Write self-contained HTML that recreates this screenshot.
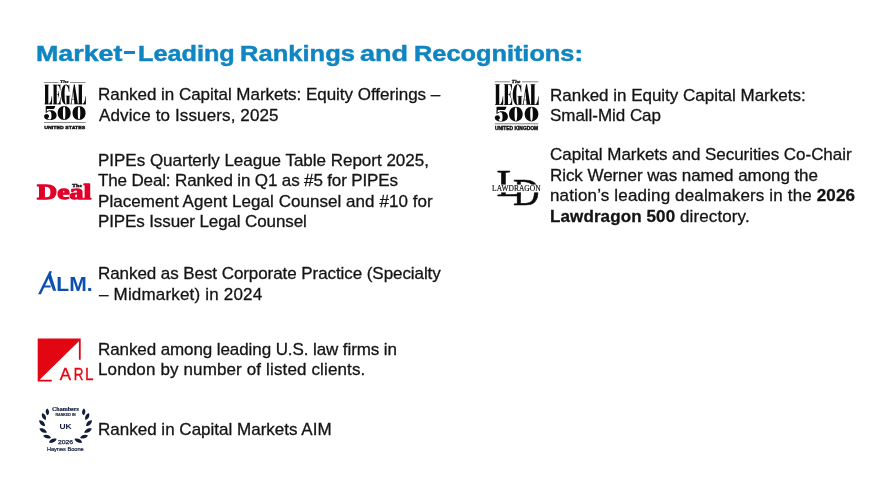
<!DOCTYPE html>
<html><head><meta charset="utf-8">
<style>
html,body{margin:0;padding:0;background:#fff;}
body{width:891px;height:494px;position:relative;overflow:hidden;font-family:"Liberation Sans",sans-serif;color:#1a1a1a;}
.tw{position:absolute;top:40px;-webkit-text-stroke:0.45px #0f85c2;font-weight:bold;font-size:22px;color:#0f85c2;white-space:nowrap;line-height:28px;transform-origin:0 0;will-change:transform;}
.t{position:absolute;font-size:17px;line-height:20px;height:20px;white-space:nowrap;color:#141414;-webkit-text-stroke:0.3px #141414;}
svg.logos{position:absolute;left:0;top:0;will-change:transform;}
.t{will-change:transform;}
</style></head><body>
<div id="title"><span class="tw" style="left:36.09px;transform:scaleX(1.2185)">Market</span><span class="tw" style="left:137.68px;transform:scaleX(1.1473)">Leading</span><span class="tw" style="left:240.07px;transform:scaleX(1.1614)">Rankings</span><span class="tw" style="left:360.41px;transform:scaleX(1.2280)">and</span><span class="tw" style="left:413.88px;transform:scaleX(1.1514)">Recognitions:</span><span style="position:absolute;left:124.3px;top:51.3px;width:10.4px;height:3.1px;background:#0f85c2"></span></div>
<div class="t" id="a1" style="left:98.00px;top:85.00px;letter-spacing:-0.032px">Ranked in Capital Markets: Equity Offerings –</div>
<div class="t" id="a2" style="left:99.00px;top:106.00px;letter-spacing:0.129px">Advice to Issuers, 2025</div>
<div class="t" id="b1" style="left:98.00px;top:151.00px;letter-spacing:-0.013px">PIPEs Quarterly League Table Report 2025,</div>
<div class="t" id="b2" style="left:98.00px;top:171.00px;letter-spacing:-0.142px">The Deal: Ranked in Q1 as #5 for PIPEs</div>
<div class="t" id="b3" style="left:98.00px;top:192.00px;letter-spacing:0.048px">Placement Agent Legal Counsel and #10 for</div>
<div class="t" id="b4" style="left:98.00px;top:212.00px;letter-spacing:-0.116px">PIPEs Issuer Legal Counsel</div>
<div class="t" id="c1" style="left:98.00px;top:264.00px;letter-spacing:-0.071px">Ranked as Best Corporate Practice (Specialty</div>
<div class="t" id="c2" style="left:99.00px;top:285.00px;letter-spacing:0.180px">– Midmarket) in 2024</div>
<div class="t" id="d1" style="left:98.00px;top:340.00px;letter-spacing:-0.092px">Ranked among leading U.S. law firms in</div>
<div class="t" id="d2" style="left:98.00px;top:360.00px;letter-spacing:0.134px">London by number of listed clients.</div>
<div class="t" id="e1" style="left:98.00px;top:420.00px;letter-spacing:0.008px">Ranked in Capital Markets AIM</div>
<div class="t" id="f1" style="left:550.00px;top:86.00px;letter-spacing:-0.014px">Ranked in Equity Capital Markets:</div>
<div class="t" id="f2" style="left:550.00px;top:106.00px;letter-spacing:-0.040px">Small-Mid Cap</div>
<div class="t" id="g1" style="left:550.00px;top:145.00px;letter-spacing:-0.045px">Capital Markets and Securities Co-Chair</div>
<div class="t" id="g2" style="left:550.00px;top:166.00px;letter-spacing:-0.065px">Rick Werner was named among the</div>
<div class="t" id="g3" style="left:550.00px;top:186.00px;letter-spacing:0.150px">nation’s leading dealmakers in the <b>2026</b></div>
<div class="t" id="g4" style="left:550.00px;top:207.00px;letter-spacing:0.111px"><b>Lawdragon 500</b> directory.</div>
<svg class="logos" width="891" height="494" viewBox="0 0 891 494">
<defs>
<!-- Legal 500 logo drawn in zoom coords (16.46 units per px), origin = page (42,78) -->
<g id="legal">
  <!-- top rule with gap for The -->
  <rect x="33" y="66" width="238" height="11" fill="#555"/>
  <rect x="462" y="66" width="253" height="11" fill="#555"/>
  <text x="368" y="84" font-family="Liberation Serif" font-style="italic" font-weight="bold" font-size="76" text-anchor="middle" textLength="140" lengthAdjust="spacingAndGlyphs" fill="#111" stroke="#111" stroke-width="4">The</text>
  <!-- L -->
  <g fill="#0a0a0a">
  <rect x="38" y="112" width="78" height="8"/>
  <rect x="50" y="112" width="54" height="320"/>
  <rect x="38" y="422" width="128" height="10"/>
  <path d="M120 432 L166 432 L166 300 L158 300 C156 360 140 410 120 424 Z"/>
  <!-- E -->
  <rect x="178" y="112" width="124" height="8"/>
  <rect x="190" y="112" width="52" height="320"/>
  <rect x="178" y="422" width="128" height="10"/>
  <path d="M262 118 C285 130 294 160 296 205 L303 205 L303 112 L262 112 Z"/>
  <path d="M242 266 L262 266 C270 250 274 235 275 215 L281 215 L281 325 L275 325 C274 300 268 285 260 274 L242 274 Z"/>
  <path d="M262 426 C288 410 298 370 300 320 L307 320 L307 432 L262 432 Z"/>
  <!-- G -->
  <path d="M392 108 C345 108 316 185 316 272 C316 360 345 438 392 438 L392 430 C378 420 372 350 372 272 C372 195 378 124 392 116 Z"/>
  <path d="M392 108 C412 108 428 118 436 132 L442 112 L450 112 L450 232 L443 232 C438 185 425 130 392 116 Z"/>
  <rect x="404" y="296" width="48" height="136"/>
  <rect x="390" y="292" width="80" height="8"/>
  <path d="M392 438 C398 438 402 434 404 428 L404 415 C400 424 396 430 392 430 Z"/>
  <!-- A -->
  <path d="M462 432 L462 424 L474 422 L524 108 L540 108 L590 422 L600 424 L600 432 L520 432 L520 424 L534 422 L527 360 L494 360 L486 422 L500 424 L500 432 Z M496 350 L526 350 L512 216 Z"/>
  <!-- L -->
  <rect x="592" y="112" width="78" height="8"/>
  <rect x="604" y="112" width="54" height="320"/>
  <rect x="592" y="422" width="130" height="10"/>
  <path d="M676 432 L722 432 L722 300 L714 300 C712 360 696 410 676 424 Z"/>
  </g>

  <g fill="#0a0a0a">
  <!-- 5 -->
  <path d="M62 462 L218 462 C214 485 205 505 190 512 L82 512 L76 556 C92 540 118 532 142 532 C200 532 240 566 240 618 C240 668 196 692 138 692 C80 692 34 672 34 634 C34 610 52 594 76 594 C100 594 116 610 116 630 C116 648 104 660 90 664 C100 676 116 684 134 684 C150 684 156 660 156 618 C156 572 148 546 124 546 C104 546 88 556 74 572 L60 572 Z"/>
  <!-- 0 -->
  <path fill-rule="evenodd" d="M365 462 C300 462 258 512 258 577 C258 642 300 692 365 692 C430 692 472 642 472 577 C472 512 430 462 365 462 Z M365 470 C382 470 385 520 385 577 C385 634 382 684 365 684 C348 684 345 634 345 577 C345 520 348 470 365 470 Z"/>
  <path fill-rule="evenodd" d="M610 462 C545 462 503 512 503 577 C503 642 545 692 610 692 C675 692 717 642 717 577 C717 512 675 462 610 462 Z M610 470 C627 470 630 520 630 577 C630 634 627 684 610 684 C593 684 590 634 590 577 C590 520 593 470 610 470 Z"/>
  </g>
  <rect x="33" y="724" width="684" height="11" fill="#555"/>
</g>
</defs>
<g transform="translate(42,78) scale(0.06075)"><use href="#legal"/>
<text x="375" y="833" font-family="Liberation Sans" font-weight="bold" font-size="72" text-anchor="middle" textLength="676" lengthAdjust="spacingAndGlyphs" fill="#111" stroke="#111" stroke-width="6">UNITED STATES</text></g>
<g transform="translate(492.6,77.3) scale(0.0638)"><use href="#legal"/>
<text x="375" y="833" font-family="Liberation Sans" font-weight="bold" font-size="72" text-anchor="middle" textLength="676" lengthAdjust="spacingAndGlyphs" fill="#111" stroke="#111" stroke-width="6">UNITED KINGDOM</text></g>

<!-- The Deal -->
<g>
<text x="37" y="199.2" font-family="Liberation Serif" font-weight="bold" font-size="21.8" textLength="54.2" lengthAdjust="spacingAndGlyphs" fill="#e0002a" stroke="#e0002a" stroke-width="1.3" stroke-linejoin="round">Deal</text>
<text x="72" y="187.1" font-family="Liberation Serif" font-weight="bold" font-size="5" textLength="10.2" lengthAdjust="spacingAndGlyphs" fill="#111" stroke="#111" stroke-width="0.35">The</text>
</g>
<!-- ALM -->
<g fill="#0d4fae" stroke="none">
<path d="M38.1 294.2 L49.4 271.3 L52.1 271.3 L40.9 294.2 Z"/>
<path d="M50.7 273.3 L56.2 290.8 L53.1 290.8 L48.0 277 Z"/>
<path d="M43.6 285.4 L50.6 285.4 L50.6 287.4 L42.6 287.4 Z"/>
<text x="56.3" y="290.8" font-family="Liberation Sans" font-weight="bold" font-size="20.6" textLength="36.3" lengthAdjust="spacingAndGlyphs">LM.</text>
</g>
<!-- ARL -->
<g fill="#e20613">
<path d="M37.7 338.6 L80.7 338.6 L80.7 359.8 L78.9 359.8 L78.9 341.2 L39.6 379.8 L51.8 379.8 L51.8 381.6 L37.7 381.6 Z"/>
<g font-family="Liberation Sans" font-size="16.6" stroke="#e20613" stroke-width="0.35">
<text transform="translate(59.7,379.6) scale(1.02,1)">A</text>
<text transform="translate(73.64,379.6) scale(0.81,1)">R</text>
<text transform="translate(85.0,379.6) scale(0.92,1)">L</text>
</g>
</g>
<!-- Chambers -->
<g fill="#111d3c">
<path transform="translate(47.40,411.80) rotate(85.0)" d="M-3.40 0 C-1.87 -2.19 1.87 -2.19 3.40 0 C1.87 2.19 -1.87 2.19 -3.40 0 Z"/>
<path transform="translate(83.72,411.80) rotate(95.0)" d="M-3.40 0 C-1.87 -2.19 1.87 -2.19 3.40 0 C1.87 2.19 -1.87 2.19 -3.40 0 Z"/>
<path transform="translate(43.90,416.60) rotate(62.5)" d="M-3.75 0 C-2.06 -2.33 2.06 -2.33 3.75 0 C2.06 2.33 -2.06 2.33 -3.75 0 Z"/>
<path transform="translate(87.22,416.60) rotate(117.5)" d="M-3.75 0 C-2.06 -2.33 2.06 -2.33 3.75 0 C2.06 2.33 -2.06 2.33 -3.75 0 Z"/>
<path transform="translate(42.10,423.20) rotate(45.0)" d="M-4.05 0 C-2.23 -2.39 2.23 -2.39 4.05 0 C2.23 2.39 -2.23 2.39 -4.05 0 Z"/>
<path transform="translate(89.02,423.20) rotate(135.0)" d="M-4.05 0 C-2.23 -2.39 2.23 -2.39 4.05 0 C2.23 2.39 -2.23 2.39 -4.05 0 Z"/>
<path transform="translate(43.20,430.50) rotate(28.8)" d="M-4.25 0 C-2.34 -2.39 2.34 -2.39 4.25 0 C2.34 2.39 -2.34 2.39 -4.25 0 Z"/>
<path transform="translate(87.92,430.50) rotate(151.2)" d="M-4.25 0 C-2.34 -2.39 2.34 -2.39 4.25 0 C2.34 2.39 -2.34 2.39 -4.25 0 Z"/>
<path transform="translate(47.10,436.60) rotate(15.0)" d="M-4.05 0 C-2.23 -2.39 2.23 -2.39 4.05 0 C2.23 2.39 -2.23 2.39 -4.05 0 Z"/>
<path transform="translate(84.02,436.60) rotate(165.0)" d="M-4.05 0 C-2.23 -2.39 2.23 -2.39 4.05 0 C2.23 2.39 -2.23 2.39 -4.05 0 Z"/>
<path transform="translate(52.80,440.80) rotate(-23.8)" d="M-4.20 0 C-2.31 -2.39 2.31 -2.39 4.20 0 C2.31 2.39 -2.31 2.39 -4.20 0 Z"/>
<path transform="translate(78.32,440.80) rotate(203.8)" d="M-4.20 0 C-2.31 -2.39 2.31 -2.39 4.20 0 C2.31 2.39 -2.31 2.39 -4.20 0 Z"/>
<text x="65.4" y="410.8" font-family="Liberation Serif" font-weight="bold" font-size="6.6" text-anchor="middle" textLength="26.8" lengthAdjust="spacingAndGlyphs" stroke="#111d3c" stroke-width="0.2">Chambers</text>
<text x="65.5" y="415.5" font-family="Liberation Sans" font-weight="bold" font-size="2.6" text-anchor="middle" textLength="20.2" lengthAdjust="spacingAndGlyphs" fill="#2a3550" stroke="#2a3550" stroke-width="0.15">RANKED IN</text>
<text x="65.5" y="428.9" font-family="Liberation Sans" font-weight="bold" font-size="8" text-anchor="middle" textLength="12.2" lengthAdjust="spacingAndGlyphs">UK</text>
<text x="65.55" y="444.2" font-family="Liberation Sans" font-size="5.8" text-anchor="middle" textLength="15.2" lengthAdjust="spacingAndGlyphs" stroke="#111d3c" stroke-width="0.25">2026</text>
<text x="65.3" y="450.5" font-family="Liberation Sans" font-size="5.2" text-anchor="middle" textLength="36.8" lengthAdjust="spacingAndGlyphs" stroke="#111d3c" stroke-width="0.2">Haynes Boone</text>
</g>
<!-- Lawdragon -->
<g fill="#0b0b0b" font-family="Liberation Serif">
<text x="496.6" y="195.6" font-size="37.8" textLength="26.5" lengthAdjust="spacingAndGlyphs" stroke="#0b0b0b" stroke-width="0.5">L</text>
<text x="512.9" y="204.5" font-size="37" textLength="26.5" lengthAdjust="spacingAndGlyphs" stroke="#0b0b0b" stroke-width="0.5">D</text>
<rect x="490" y="184.6" width="52" height="7.8" fill="#fff"/>
<text x="492.1" y="191.2" font-size="8.1" textLength="48.5" lengthAdjust="spacingAndGlyphs" stroke="#0b0b0b" stroke-width="0.15">LAWDRAGON</text>
</g>
</svg>

</body></html>
